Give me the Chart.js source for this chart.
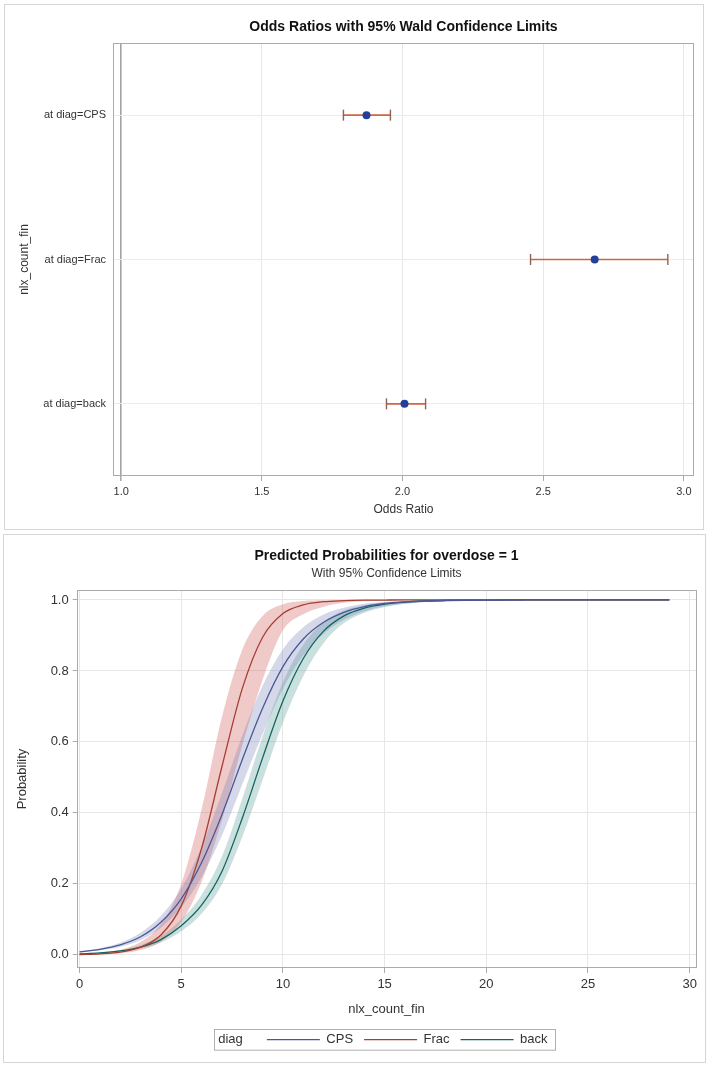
<!DOCTYPE html>
<html>
<head>
<meta charset="utf-8">
<script src="https://cdn.jsdelivr.net/npm/chart.js@4.4.0/dist/chart.umd.min.js"></script>
<style>
	html, body { margin: 0; padding: 0; background: #fff; }
	body { width: 709px; height: 1065px; position: relative; overflow: hidden; }
	.panel { position: absolute; border: 1px solid #d6d6d6; }
	#top { left: 4px; top: 4px; width: 698px; height: 524px; }
	#bottom { left: 3px; top: 534px; width: 701px; height: 527px; }
	canvas { display: block; }
</style>
</head>
<body>
<div class="panel" id="top"><canvas id="orChart" width="698" height="524"></canvas></div>
<div class="panel" id="bottom"><canvas id="probChart" width="701" height="527"></canvas></div>
<script>
// Odds ratio panel
const categories = ['at diag=CPS', 'at diag=Frac', 'at diag=back']
const oddsRatio = [1.872, 2.683, 2.007]
const lowerCL = [1.79, 2.455, 1.943]
const upperCL = [1.957, 2.943, 2.082]
const orTicks = [1.0, 1.5, 2.0, 2.5, 3.0]

// Predicted probability panel
const xValues = [0, 1, 2, 3, 4, 5, 6, 7, 8, 9, 10, 11, 12, 13, 14, 15, 16, 17, 18, 19, 20, 21, 22, 23, 24, 25, 26, 27, 28, 29]
const cpsProb = [0.0085, 0.0155, 0.028, 0.051, 0.092, 0.158, 0.26, 0.395, 0.55, 0.695, 0.812, 0.89, 0.937, 0.965, 0.981, 0.99, 0.9945, 0.997, 0.9984, 0.9991, 0.9995, 0.9997, 0.9999, 1, 1, 1, 1, 1, 1, 1]
const cpsLower = [0.007, 0.0127, 0.023, 0.042, 0.0766, 0.134, 0.219, 0.336, 0.48, 0.622, 0.75, 0.844, 0.905, 0.944, 0.968, 0.982, 0.9895, 0.994, 0.9965, 0.998, 0.9989, 0.9994, 0.9997, 0.9999, 1, 1, 1, 1, 1, 1]
const cpsUpper = [0.0103, 0.0189, 0.034, 0.062, 0.11, 0.187, 0.304, 0.455, 0.618, 0.758, 0.861, 0.923, 0.959, 0.978, 0.989, 0.9945, 0.9971, 0.9985, 0.9992, 0.9996, 0.9998, 0.9999, 1, 1, 1, 1, 1, 1, 1, 1]
const fracProb = [0.001, 0.003, 0.008, 0.022, 0.056, 0.138, 0.3, 0.53, 0.75, 0.895, 0.962, 0.986, 0.995, 0.998, 0.9993, 0.9997, 1, 1, 1, 1, 1, 1, 1, 1, 1, 1, 1, 1, 1, 1]
const fracLower = [0.0006, 0.0016, 0.0046, 0.0135, 0.037, 0.093, 0.206, 0.38, 0.59, 0.775, 0.915, 0.96, 0.981, 0.992, 0.996, 0.998, 0.9992, 0.9997, 0.9999, 1, 1, 1, 1, 1, 1, 1, 1, 1, 1, 1]
const fracUpper = [0.002, 0.0054, 0.014, 0.036, 0.086, 0.2, 0.41, 0.67, 0.86, 0.955, 0.988, 0.997, 0.999, 0.9997, 1, 1, 1, 1, 1, 1, 1, 1, 1, 1, 1, 1, 1, 1, 1, 1]
const backProb = [0.003, 0.0055, 0.011, 0.022, 0.043, 0.082, 0.14, 0.235, 0.385, 0.555, 0.715, 0.835, 0.912, 0.955, 0.977, 0.988, 0.994, 0.997, 0.9985, 0.9993, 0.9997, 0.9999, 1, 1, 1, 1, 1, 1, 1, 1]
const backLower = [0.0024, 0.0044, 0.0088, 0.0178, 0.0349, 0.0666, 0.116, 0.198, 0.332, 0.493, 0.655, 0.786, 0.879, 0.935, 0.964, 0.98, 0.9895, 0.9945, 0.997, 0.9985, 0.9993, 0.9997, 0.9999, 1, 1, 1, 1, 1, 1, 1]
const backUpper = [0.0037, 0.0068, 0.0137, 0.0274, 0.053, 0.0998, 0.169, 0.277, 0.44, 0.615, 0.769, 0.874, 0.937, 0.97, 0.985, 0.9927, 0.9965, 0.9983, 0.9992, 0.9996, 0.9998, 0.9999, 1, 1, 1, 1, 1, 1, 1, 1]
const probTicksX = [0, 5, 10, 15, 20, 25, 30]
const probTicksY = [0.0, 0.2, 0.4, 0.6, 0.8, 1.0]

Chart.defaults.font.family = '"Liberation Sans", Arial, sans-serif'
Chart.defaults.color = '#333'
Chart.defaults.animation = false
Chart.defaults.responsive = false
Chart.defaults.events = []
Chart.defaults.plugins.tooltip.enabled = false

const frameColor = '#ababab'
const gridColor = '#e6e6e6'

// box round the plot area
const framePlugin = {
	id: 'frame',
	afterDraw(chart) {
		const { ctx, chartArea: a } = chart
		ctx.save()
		ctx.strokeStyle = frameColor
		ctx.lineWidth = 1
		ctx.strokeRect(Math.round(a.left) + 0.5, Math.round(a.top) + 0.5, Math.round(a.width) - 1, Math.round(a.height) - 1)
		ctx.restore()
	},
}

// legend border with the "diag" group label
const legendBox = {
	id: 'legendBox',
	afterLayout(chart) {
		chart.legend.left += 54
		chart.legend.right += 54
	},
	afterDraw(chart) {
		const hb = chart.legend.legendHitBoxes
		if (!hb || !hb.length) return
		const first = hb[0]
		const last = hb[hb.length - 1]
		const cy = first.top + first.height / 2
		const left = Math.round(first.left - 53) + 0.5
		const right = Math.round(last.left + last.width + 7) + 0.5
		const ctx = chart.ctx
		ctx.save()
		ctx.strokeStyle = '#b0b0b0'
		ctx.lineWidth = 1
		ctx.strokeRect(left, Math.round(cy - 10.35) + 0.5, right - left, 20.7)
		ctx.fillStyle = '#333'
		ctx.font = '13px "Liberation Sans", Arial, sans-serif'
		ctx.textBaseline = 'middle'
		ctx.textAlign = 'left'
		ctx.fillText('diag', first.left - 48.7, cy)
		ctx.restore()
	},
}

const errorBars = categories.map((c, i) => ({
	data: [{ x: lowerCL[i], y: c }, { x: upperCL[i], y: c }],
	showLine: true,
	borderColor: '#cf6640',
	borderWidth: 1.6,
	pointStyle: 'line',
	pointRotation: 90,
	pointRadius: 5.5,
	pointBorderColor: '#8f6255',
	pointBorderWidth: 1.4,
	order: 2,
}))
const estimates = {
	data: categories.map((c, i) => ({ x: oddsRatio[i], y: c })),
	pointRadius: 4,
	pointBackgroundColor: '#22409a',
	pointBorderColor: '#22409a',
	pointBorderWidth: 0,
	order: 1,
}

new Chart(document.getElementById('orChart'), {
	type: 'scatter',
	data: { datasets: [...errorBars, estimates] },
	options: {
		layout: { padding: { left: 8, right: 9, top: 0, bottom: 0 } },
		plugins: {
			legend: { display: false },
			title: {
				display: true,
				fullSize: false,
				text: 'Odds Ratios with 95% Wald Confidence Limits',
				color: '#111',
				font: { size: 14, weight: 'bold' },
				padding: { top: 13.6, bottom: 7.6 },
			},
		},
		scales: {
			x: {
				type: 'linear',
				min: 0.971,
				max: 3.036,
				afterFit: (s) => { s.height = 53 },
				afterBuildTicks: (s) => { s.ticks = orTicks.map((v) => ({ value: v })) },
				ticks: { padding: 4, font: { size: 11 }, callback: (v) => v.toFixed(1) },
				grid: {
					color: (ctx) => (ctx.tick && ctx.tick.value === 1 ? '#a2a2a2' : gridColor),
					lineWidth: (ctx) => (ctx.tick && ctx.tick.value === 1 ? 1.6 : 1),
					tickLength: 5,
					tickColor: frameColor,
				},
				border: { display: false },
				title: { display: true, text: 'Odds Ratio', font: { size: 12 }, padding: { top: 0, bottom: 11.8 } },
			},
			y: {
				type: 'category',
				labels: categories,
				offset: true,
				afterFit: (s) => { s.width = 100 },
				ticks: { font: { size: 11 }, padding: 7 },
				grid: { color: '#ebebeb', drawTicks: false },
				border: { display: false },
				title: { display: true, text: 'nlx_count_fin', font: { size: 12 }, padding: { top: 4.8, bottom: 0 } },
			},
		},
	},
	plugins: [framePlugin],
})

const pts = (ys) => xValues.map((x, i) => ({ x: x, y: ys[i] }))
const band = (lo, hi, color) => [
	{ data: pts(lo), borderColor: 'rgba(0,0,0,0)', borderWidth: 0, fill: false, order: 2 },
	{ data: pts(hi), borderColor: 'rgba(0,0,0,0)', borderWidth: 0, fill: '-1', backgroundColor: color, order: 2 },
]
const curve = (label, ys, color) => ({
	label: label,
	data: pts(ys),
	borderColor: color,
	backgroundColor: color,
	borderWidth: 1.3,
	pointStyle: 'line',
	fill: false,
	order: 1,
})

new Chart(document.getElementById('probChart'), {
	type: 'line',
	data: {
		datasets: [
			...band(cpsLower, cpsUpper, 'rgba(111, 126, 179, 0.3)'),
			...band(fracLower, fracUpper, 'rgba(208, 91, 91, 0.33)'),
			...band(backLower, backUpper, 'rgba(102, 165, 160, 0.35)'),
			curve('CPS', cpsProb, '#4a5897'),
			curve('Frac', fracProb, '#a63f33'),
			curve('back', backProb, '#12665c'),
		],
	},
	options: {
		layout: { padding: { left: 6, right: 8.6, top: 0, bottom: 5.8 } },
		elements: {
			point: { radius: 0 },
			line: { cubicInterpolationMode: 'monotone' },
		},
		plugins: {
			legend: {
				position: 'bottom',
				labels: {
					filter: (item) => item.datasetIndex >= 6,
					usePointStyle: true,
					pointStyleWidth: 53,
					padding: 11,
					color: '#333',
					font: { size: 13 },
				},
			},
			title: {
				display: true,
				fullSize: false,
				text: 'Predicted Probabilities for overdose = 1',
				color: '#111',
				font: { size: 14, weight: 'bold' },
				padding: { top: 12.6, bottom: 2.4 },
			},
			subtitle: {
				display: true,
				fullSize: false,
				text: 'With 95% Confidence Limits',
				color: '#333',
				font: { size: 12 },
				padding: { top: 0, bottom: 8.8 },
			},
		},
		scales: {
			x: {
				type: 'linear',
				min: -0.14,
				max: 30.33,
				afterFit: (s) => { s.height = 54.2 },
				afterBuildTicks: (s) => { s.ticks = probTicksX.map((v) => ({ value: v })) },
				ticks: { padding: 4, font: { size: 13 } },
				grid: { color: gridColor, tickLength: 5, tickColor: frameColor },
				border: { display: false },
				title: { display: true, text: 'nlx_count_fin', font: { size: 13 }, padding: { top: 0, bottom: 5.4 } },
			},
			y: {
				type: 'linear',
				min: -0.037,
				max: 1.028,
				afterFit: (s) => { s.width = 66.7 },
				afterBuildTicks: (s) => { s.ticks = probTicksY.map((v) => ({ value: v })) },
				ticks: { padding: 4, font: { size: 13 }, callback: (v) => v.toFixed(1) },
				grid: { color: gridColor, tickLength: 4, tickColor: frameColor },
				border: { display: false },
				title: { display: true, text: 'Probability', font: { size: 13 }, padding: { top: 5, bottom: 0 } },
			},
		},
	},
	plugins: [framePlugin, legendBox],
})
</script>
</body>
</html>
